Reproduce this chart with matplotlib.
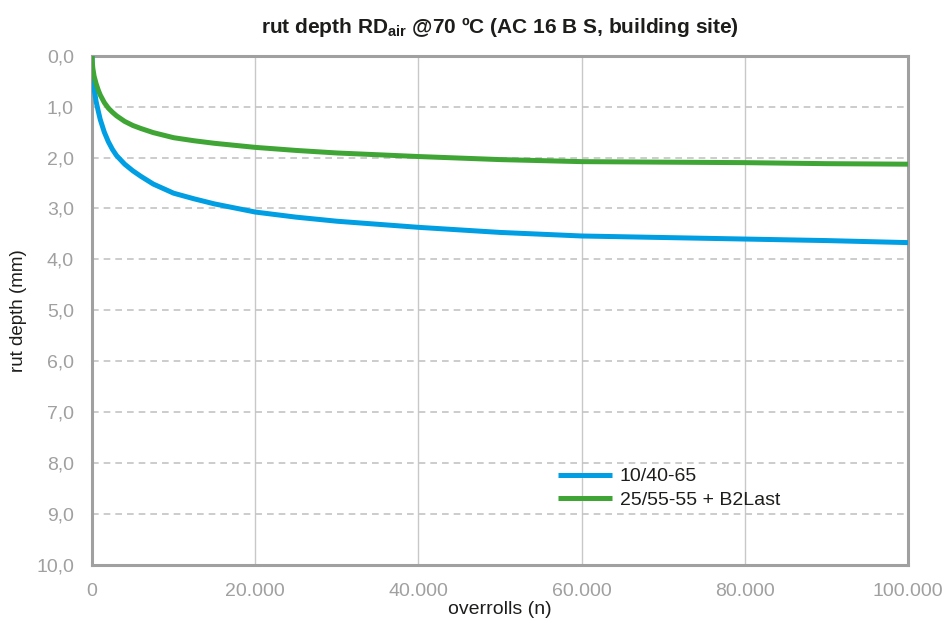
import matplotlib
matplotlib.use("Agg")
import matplotlib.pyplot as plt

# ---- data ----
overrolls = [0, 25, 100, 250, 500, 750, 1000, 1500, 2000, 2500, 3000, 4000, 5000, 6000,
             7500, 10000, 12500, 15000, 20000, 25000, 30000, 40000, 50000, 60000,
             70000, 80000, 90000, 100000]
rut_1040 = [0.0, 0.20, 0.42, 0.65, 0.90, 1.08, 1.25, 1.50, 1.69, 1.84, 1.96, 2.13, 2.26, 2.37,
            2.52, 2.70, 2.81, 2.91, 3.07, 3.17, 3.25, 3.37, 3.47, 3.54,
            3.57, 3.60, 3.63, 3.67]
rut_2555 = [0.0, 0.12, 0.25, 0.40, 0.55, 0.67, 0.77, 0.92, 1.03, 1.11, 1.18, 1.29, 1.37, 1.43,
            1.51, 1.61, 1.67, 1.72, 1.80, 1.86, 1.91, 1.98, 2.04, 2.08,
            2.09, 2.10, 2.12, 2.13]
series_names = ["10/40-65", "25/55-55 + B2Last"]
x_ticks = [0, 20000, 40000, 60000, 80000, 100000]
x_tick_labels = ["0", "20.000", "40.000", "60.000", "80.000", "100.000"]
y_ticks = list(range(0, 11))
y_tick_labels = [f"{v},0" for v in y_ticks]

plt.rcParams["font.family"] = ["Liberation Sans", "DejaVu Sans"]

BLUE = "#009FE3"
GREEN = "#3FA535"
GRAY = "#a0a0a0"
DARK = "#1d1d1b"

fig = plt.figure(figsize=(9.44, 6.23), dpi=100)
ax = fig.add_axes([0.0975, 0.0931, 0.962 - 0.0975, 0.9106 - 0.0931])

ax.plot(overrolls, rut_1040, color=BLUE, lw=3.6, label=series_names[0],
        solid_capstyle="butt", solid_joinstyle="round", zorder=3)
ax.plot(overrolls, rut_2555, color=GREEN, lw=3.6, label=series_names[1],
        solid_capstyle="butt", solid_joinstyle="round", zorder=3)

ax.set_xlim(0, 100000)
ax.set_ylim(10, 0)
ax.set_xticks(x_ticks)
ax.set_xticklabels(x_tick_labels)
ax.set_yticks(y_ticks)
ax.set_yticklabels(y_tick_labels)
ax.tick_params(axis="both", length=0, labelsize=14, labelcolor=GRAY)
ax.tick_params(axis="y", pad=13)
ax.tick_params(axis="x", pad=13)

ax.xaxis.grid(True, color="#c8c8c8", lw=1.0, ls="-")
ax.yaxis.grid(True, color="#c4c4c4", lw=1.2, ls=(0, (4, 3)))
ax.set_axisbelow(True)

for s in ax.spines.values():
    s.set_color(GRAY)
    s.set_linewidth(2.2)

ax.set_title("rut depth RD$_{\\mathregular{air}}$ @70 ºC (AC 16 B S, building site)",
             fontsize=15, fontweight="bold", color=DARK, pad=16)
ax.set_ylabel("rut depth (mm)", fontsize=13.5, color=DARK)
ax.yaxis.set_label_coords(-0.08, 0.5)
ax.set_xlabel("overrolls (n)", fontsize=14, color=DARK, labelpad=1)

leg = ax.legend(loc="lower left", bbox_to_anchor=(0.562, 0.095), frameon=False,
                fontsize=14, handlelength=2.75, handletextpad=0.4, labelspacing=0.3,
                borderaxespad=0)
for t in leg.get_texts():
    t.set_color(DARK)

fig.savefig("out.png", dpi=100)
